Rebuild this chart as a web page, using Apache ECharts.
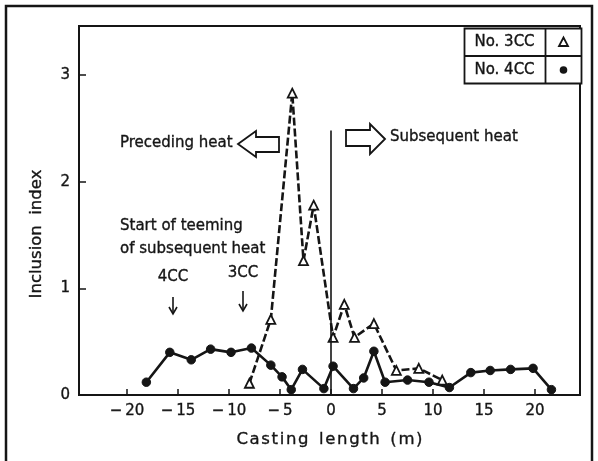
<!DOCTYPE html>
<html>
<head>
<meta charset="utf-8">
<script src="https://cdn.jsdelivr.net/npm/echarts@6/dist/echarts.min.js"></script>
<style>
  html, body { margin: 0; padding: 0; background: #ffffff; }
  #chart { width: 598px; height: 461px; }
</style>
</head>
<body>
<div id="chart"></div>
<script>
// Casting length (m) and inclusion index for the two casters
const cc3X = [-8.0, -5.9, -3.8, -2.7, -1.7, 0.2, 1.3, 2.3, 4.2, 6.4, 8.6, 10.9];
const cc3Y = [0.11, 0.71, 2.83, 1.26, 1.78, 0.54, 0.85, 0.54, 0.67, 0.23, 0.25, 0.14];

const cc4X = [-18.1, -15.8, -13.7, -11.8, -9.8, -7.8, -5.9, -4.8, -3.9, -2.8, -0.7, 0.2,
              2.2, 3.2, 4.2, 5.3, 7.5, 9.6, 11.6, 13.7, 15.6, 17.6, 19.8, 21.6];
const cc4Y = [0.12, 0.40, 0.33, 0.43, 0.40, 0.44, 0.28, 0.17, 0.05, 0.24, 0.06, 0.27,
              0.06, 0.16, 0.41, 0.12, 0.14, 0.12, 0.07, 0.21, 0.23, 0.24, 0.25, 0.05];

const xTicks = [-20, -15, -10, -5, 0, 5, 10, 15, 20];
const yTicks = [0, 1, 2, 3];

const FONT = '"DejaVu Sans", "Liberation Sans", sans-serif';
const INK = '#151515';

// slightly heavier text, like the printed figure
const txt = (extra) => Object.assign({
  fontFamily: FONT, fontSize: 15, fill: INK,
  stroke: INK, lineWidth: 0.35,
  align: 'left', verticalAlign: 'middle'
}, extra);

const zip = (xs, ys) => xs.map((x, i) => [x, ys[i]]);

const chart = echarts.init(document.getElementById('chart'), null, { renderer: 'canvas' });

const option = {
  backgroundColor: '#ffffff',
  animation: false,
  grid: {
    left: 79, right: 18, top: 26, bottom: 66,
    show: true, borderColor: INK, borderWidth: 2
  },
  xAxis: {
    type: 'value',
    min: -24.7, max: 24.4,
    name: 'C\u200aa\u200as\u200at\u200ai\u200an\u200ag  l\u200ae\u200an\u200ag\u200at\u200ah  (\u200am\u200a)',
    nameLocation: 'middle',
    nameGap: 36,
    nameTextStyle: { fontFamily: FONT, fontSize: 16.5, color: INK, textBorderColor: INK, textBorderWidth: 0.35 },
    axisLine: { onZero: false, lineStyle: { color: INK, width: 2 } },
    axisTick: { inside: true, length: 6, customValues: xTicks, lineStyle: { color: INK, width: 1.5 } },
    axisLabel: {
      customValues: xTicks,
      fontFamily: FONT, fontSize: 15, color: INK, textBorderColor: INK, textBorderWidth: 0.35, margin: 9,
      formatter: v => (v < 0 ? '\u2212\u2009' + Math.abs(v) : String(v))
    },
    splitLine: { show: false }
  },
  yAxis: {
    type: 'value',
    min: 0, max: 3.46,
    axisLine: { onZero: false, lineStyle: { color: INK, width: 2 } },
    axisTick: { inside: true, length: 7, customValues: yTicks, lineStyle: { color: INK, width: 1.5 } },
    axisLabel: {
      customValues: yTicks,
      fontFamily: FONT, fontSize: 15, color: INK, textBorderColor: INK, textBorderWidth: 0.35, margin: 9
    },
    splitLine: { show: false }
  },
  series: [
    {
      name: 'No. 3CC',
      type: 'line',
      data: zip(cc3X, cc3Y),
      symbol: 'triangle',
      symbolSize: 9,
      itemStyle: { color: '#ffffff', borderColor: INK, borderWidth: 1.8 },
      lineStyle: { color: INK, width: 2.6, type: [8, 3] },
      z: 3,
      markLine: {
        silent: true,
        symbol: ['none', 'none'],
        label: { show: false },
        lineStyle: { color: INK, width: 1.6, type: 'solid' },
        data: [[{ coord: [0, 0] }, { coord: [0, 2.48] }]]
      }
    },
    {
      name: 'No. 4CC',
      type: 'line',
      data: zip(cc4X, cc4Y),
      symbol: 'circle',
      symbolSize: 8.5,
      itemStyle: { color: INK, borderColor: INK, borderWidth: 1 },
      lineStyle: { color: INK, width: 2.6 },
      z: 4
    }
  ],
  graphic: [
    // outer frame
    {
      type: 'polyline',
      shape: { points: [[6, 461], [6, 6], [592, 6], [592, 461]] },
      style: { stroke: INK, lineWidth: 2.5, fill: null }
    },
    // y axis title
    {
      type: 'text', x: 37, y: 234, rotation: Math.PI / 2,
      style: txt({ text: 'Inclusion  index', fontSize: 16.5, align: 'center' })
    },
    // legend table
    {
      type: 'group',
      left: 462, top: 26,
      children: [
        { type: 'rect', shape: { x: 0, y: 0, width: 117, height: 55 },
          style: { fill: '#ffffff', stroke: INK, lineWidth: 1.8 } },
        { type: 'line', shape: { x1: 0, y1: 27.5, x2: 117, y2: 27.5 },
          style: { stroke: INK, lineWidth: 1.8 } },
        { type: 'line', shape: { x1: 81, y1: 0, x2: 81, y2: 55 },
          style: { stroke: INK, lineWidth: 1.8 } },
        { type: 'text', x: 40, y: 14, style: txt({ text: 'No. 3CC', align: 'center' }) },
        { type: 'text', x: 40, y: 41.5, style: txt({ text: 'No. 4CC', align: 'center' }) },
        { type: 'polygon', shape: { points: [[99, 9], [94.5, 17.5], [103.5, 17.5]] },
          style: { fill: '#ffffff', stroke: INK, lineWidth: 1.8 } },
        { type: 'circle', shape: { cx: 99, cy: 41.5, r: 3.8 },
          style: { fill: INK } }
      ]
    },
    // "Preceding heat" with hollow left arrow
    { type: 'text', x: 120, y: 143, style: txt({ text: 'Preceding heat' }) },
    {
      type: 'polygon',
      shape: { points: [[238, 144], [256, 131], [256, 137], [279, 137], [279, 152], [256, 152], [256, 157]] },
      style: { fill: '#ffffff', stroke: INK, lineWidth: 1.8 }
    },
    // "Subsequent heat" with hollow right arrow
    {
      type: 'polygon',
      shape: { points: [[385, 139], [370, 124], [370, 130], [346, 130], [346, 146], [370, 146], [370, 154]] },
      style: { fill: '#ffffff', stroke: INK, lineWidth: 1.8 }
    },
    { type: 'text', x: 390, y: 137, style: txt({ text: 'Subsequent heat' }) },
    // start of teeming note
    { type: 'text', x: 120, y: 226, style: txt({ text: 'Start of teeming' }) },
    { type: 'text', x: 120, y: 249, style: txt({ text: 'of subsequent heat' }) },
    { type: 'text', x: 173, y: 277, style: txt({ text: '4CC', align: 'center' }) },
    { type: 'text', x: 243, y: 273, style: txt({ text: '3CC', align: 'center' }) },
    { type: 'line', shape: { x1: 173, y1: 297, x2: 173, y2: 313 }, style: { stroke: INK, lineWidth: 1.6 } },
    { type: 'polyline', shape: { points: [[169, 307], [173, 314], [177, 307]] }, style: { stroke: INK, lineWidth: 1.6, fill: null } },
    { type: 'line', shape: { x1: 243, y1: 291, x2: 243, y2: 310 }, style: { stroke: INK, lineWidth: 1.6 } },
    { type: 'polyline', shape: { points: [[239, 304], [243, 311], [247, 304]] }, style: { stroke: INK, lineWidth: 1.6, fill: null } }
  ]
};

chart.setOption(option);
</script>
</body>
</html>
